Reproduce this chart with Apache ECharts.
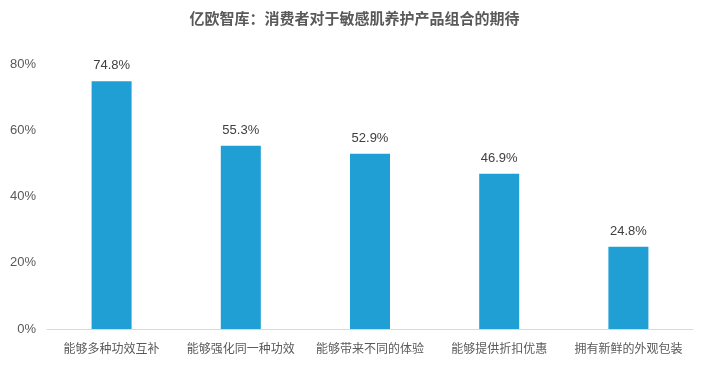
<!DOCTYPE html>
<html><head><meta charset="utf-8">
<script src="https://cdn.jsdelivr.net/npm/echarts@6/dist/echarts.min.js"></script>
<style>html,body{margin:0;padding:0;background:#fff}#c{width:709px;height:377px}</style>
</head><body><div id="c"></div>
<script>
var titleText = '亿欧智库：消费者对于敏感肌养护产品组合的期待';
var categories = ['能够多种功效互补','能够强化同一种功效','能够带来不同的体验','能够提供折扣优惠','拥有新鲜的外观包装'];
var values = [74.8, 55.3, 52.9, 46.9, 24.8];
var yTicks = [0, 20, 40, 60, 80];
var chart = echarts.init(document.getElementById('c'));
chart.setOption({
  animation: false,
  title: {text: titleText, left: 'center', top: 6, textStyle: {fontFamily: 'Noto Sans CJK SC', fontSize: 15, fontWeight: 'bold', color: '#595959'}},
  grid: {left: 47, right: 16, top: 64, bottom: 48, containLabel: false},
  xAxis: {type: 'category', data: categories,
    axisLine: {lineStyle: {color: '#d9d9d9', width: 1}}, axisTick: {show: false},
    axisLabel: {fontFamily: 'Noto Sans CJK SC', fontSize: 12, color: '#595959', margin: 13, interval: 0}},
  yAxis: {type: 'value', min: yTicks[0], max: yTicks[yTicks.length-1], interval: 20,
    axisLine: {show: false}, axisTick: {show: false}, splitLine: {show: false},
    axisLabel: {fontFamily: 'Liberation Sans, Noto Sans CJK SC', fontSize: 13, color: '#595959', margin: 11, formatter: '{value}%'}},
  series: [{type: 'bar', data: values, barWidth: 40,
    itemStyle: {color: '#1f9fd4'},
    label: {show: true, position: 'top', distance: 9, fontFamily: 'Liberation Sans, Noto Sans CJK SC', fontSize: 13, color: '#404040', formatter: function(p){return p.value.toFixed(1)+'%';}}}]
});
</script></body></html>
